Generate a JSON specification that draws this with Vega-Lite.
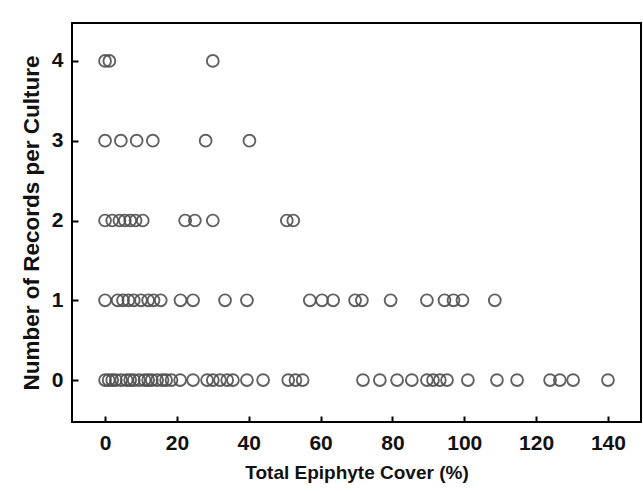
{
  "$schema": "https://vega.github.io/schema/vega-lite/v6.json",
  "width": 569,
  "height": 399,
  "autosize": {"type": "none"},
  "padding": {"left": 72, "top": 23, "right": 2, "bottom": 69},
  "background": "white",
  "config": {
    "view": {"stroke": "#000", "strokeWidth": 2},
    "axis": {
      "domain": false, "offset": -6,
      "tickColor": "#000", "tickWidth": 2, "tickSize": 6,
      "grid": false,
      "labelFont": "Liberation Sans", "labelFontWeight": "bold", "labelColor": "#111",
      "titleFont": "Liberation Sans", "titleFontWeight": "bold", "titleColor": "#111"
    }
  },
  "data": {"values": [
    {"cover": 0, "records": 4}, {"cover": 1.2, "records": 4}, {"cover": 30, "records": 4},
    {"cover": 0, "records": 3}, {"cover": 4.4, "records": 3}, {"cover": 8.8, "records": 3}, {"cover": 13.3, "records": 3}, {"cover": 28, "records": 3}, {"cover": 40.2, "records": 3},
    {"cover": 0, "records": 2}, {"cover": 2, "records": 2}, {"cover": 4, "records": 2}, {"cover": 5.5, "records": 2}, {"cover": 7, "records": 2}, {"cover": 8.5, "records": 2}, {"cover": 10.5, "records": 2}, {"cover": 22.3, "records": 2}, {"cover": 25, "records": 2}, {"cover": 30, "records": 2}, {"cover": 50.6, "records": 2}, {"cover": 52.4, "records": 2},
    {"cover": 0, "records": 1}, {"cover": 3.5, "records": 1}, {"cover": 5, "records": 1}, {"cover": 6.5, "records": 1}, {"cover": 8, "records": 1}, {"cover": 10, "records": 1}, {"cover": 12, "records": 1}, {"cover": 13.5, "records": 1}, {"cover": 15.5, "records": 1}, {"cover": 21, "records": 1}, {"cover": 24.5, "records": 1}, {"cover": 33.4, "records": 1}, {"cover": 39.5, "records": 1}, {"cover": 57, "records": 1}, {"cover": 60.4, "records": 1}, {"cover": 63.5, "records": 1}, {"cover": 69.6, "records": 1}, {"cover": 71.5, "records": 1}, {"cover": 79.5, "records": 1}, {"cover": 89.6, "records": 1}, {"cover": 94.5, "records": 1}, {"cover": 97, "records": 1}, {"cover": 99.5, "records": 1}, {"cover": 108.5, "records": 1},
    {"cover": 0, "records": 0}, {"cover": 1, "records": 0}, {"cover": 2, "records": 0}, {"cover": 3, "records": 0}, {"cover": 4.5, "records": 0}, {"cover": 6, "records": 0}, {"cover": 7, "records": 0}, {"cover": 8, "records": 0}, {"cover": 9.5, "records": 0}, {"cover": 11, "records": 0}, {"cover": 12, "records": 0}, {"cover": 13, "records": 0}, {"cover": 14.5, "records": 0}, {"cover": 16, "records": 0}, {"cover": 17, "records": 0}, {"cover": 18.5, "records": 0}, {"cover": 20.9, "records": 0}, {"cover": 24.5, "records": 0}, {"cover": 28.4, "records": 0}, {"cover": 30, "records": 0}, {"cover": 32, "records": 0}, {"cover": 34, "records": 0}, {"cover": 35.6, "records": 0}, {"cover": 39.5, "records": 0}, {"cover": 44, "records": 0}, {"cover": 51, "records": 0}, {"cover": 53, "records": 0}, {"cover": 55, "records": 0}, {"cover": 71.8, "records": 0}, {"cover": 76.5, "records": 0}, {"cover": 81.3, "records": 0}, {"cover": 85.4, "records": 0}, {"cover": 89.6, "records": 0}, {"cover": 91.3, "records": 0}, {"cover": 93.2, "records": 0}, {"cover": 95.2, "records": 0}, {"cover": 101, "records": 0}, {"cover": 109.1, "records": 0}, {"cover": 114.7, "records": 0}, {"cover": 123.9, "records": 0}, {"cover": 126.6, "records": 0}, {"cover": 130.3, "records": 0}, {"cover": 140, "records": 0}
  ]},
  "mark": {"type": "point", "shape": "circle", "filled": false, "size": 140, "stroke": "#505050", "strokeWidth": 1.9, "opacity": 0.9},
  "encoding": {
    "x": {
      "field": "cover", "type": "quantitative",
      "scale": {"domain": [-9.2, 149.2], "nice": false, "zero": false},
      "axis": {"values": [0, 20, 40, 60, 80, 100, 120, 140], "title": "Total Epiphyte Cover (%)", "labelFontSize": 21, "labelPadding": 10, "titleFontSize": 19, "titlePadding": 10}
    },
    "y": {
      "field": "records", "type": "quantitative",
      "scale": {"domain": [-0.525, 4.475], "nice": false, "zero": false},
      "axis": {"values": [0, 1, 2, 3, 4], "title": "Number of Records per Culture", "labelFontSize": 21, "labelPadding": 9, "titleFontSize": 22.5, "titlePadding": 8}
    }
  }
}
